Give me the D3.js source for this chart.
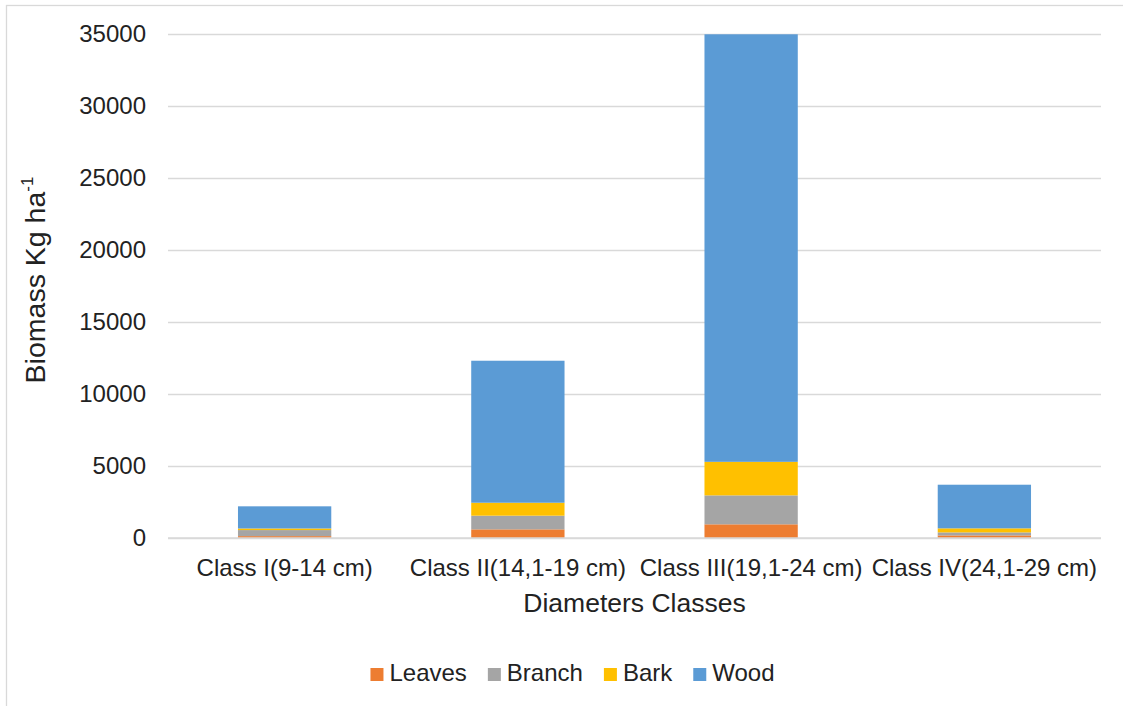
<!DOCTYPE html>
<html><head><meta charset="utf-8">
<script src="https://cdn.jsdelivr.net/npm/d3@7"></script>
<style>body{margin:0;background:#fff}svg{display:block}text{font-family:"Liberation Sans",Arial,sans-serif;fill:#222}</style>
</head><body>
<svg id="c" width="1123" height="706"></svg>
<script>
const categories = ["Class I(9-14 cm)", "Class II(14,1-19 cm)", "Class III(19,1-24 cm)", "Class IV(24,1-29 cm)"];
const seriesNames = ["Leaves", "Branch", "Bark", "Wood"];
const leaves = [130, 600, 950, 180];
const branch = [420, 950, 2010, 210];
const bark = [110, 900, 2330, 280];
const wood = [1540, 9860, 29690, 3030];
const yTicks = [0, 5000, 10000, 15000, 20000, 25000, 30000, 35000];
const colors = ["#ED7D31", "#A5A5A5", "#FFC000", "#5B9BD5"];

const svg = d3.select("#c");
const W = 1123, H = 706;
const L = 168, R = 1101, T = 34, B = 538;

svg.append("rect").attr("x", 6.5).attr("y", 5.5).attr("width", 1140).attr("height", 720)
  .attr("fill", "#fff").attr("stroke", "#d9d9d9").attr("stroke-width", 1.3);

const x = d3.scaleBand().domain(categories).range([L, R]).paddingInner(0.6).paddingOuter(0.3);
const y = d3.scaleLinear().domain([0, 35000]).range([B, T]);

// gridlines + y labels
const ga = svg.append("g").attr("transform", `translate(${L},0)`)
  .call(d3.axisLeft(y).tickValues(yTicks).tickSize(-(R - L)).tickPadding(22).tickFormat(d3.format("d")));
ga.select(".domain").remove();
ga.selectAll("line").attr("stroke", "#d9d9d9").attr("stroke-width", 1.4);
ga.selectAll("text").attr("font-size", 24).style("fill", "#222");

// stacked bars
const rows = categories.map((c, i) => ({cat: c, Leaves: leaves[i], Branch: branch[i], Bark: bark[i], Wood: wood[i]}));
const stack = d3.stack().keys(seriesNames)(rows);
svg.append("g").selectAll("g").data(stack).join("g")
  .attr("fill", (d, i) => colors[i])
  .selectAll("rect").data(d => d).join("rect")
  .attr("x", d => x(d.data.cat)).attr("width", x.bandwidth())
  .attr("y", d => y(d[1])).attr("height", d => y(d[0]) - y(d[1]));

// baseline
svg.append("line").attr("x1", L).attr("x2", R).attr("y1", y(0)).attr("y2", y(0))
  .attr("stroke", "#d9d9d9").attr("stroke-width", 1.4);

// category labels
svg.append("g").selectAll("text").data(categories).join("text")
  .attr("x", d => x(d) + x.bandwidth() / 2).attr("y", B + 38)
  .attr("text-anchor", "middle").attr("font-size", 24).text(d => d);

// x title
svg.append("text").attr("x", (L + R) / 2).attr("y", B + 74)
  .attr("text-anchor", "middle").attr("font-size", 26.5).text("Diameters Classes");

// y title
const yt = svg.append("text").attr("transform", `translate(45,${(T + B) / 2 - 6}) rotate(-90)`)
  .attr("text-anchor", "middle").attr("font-size", 28.5);
yt.append("tspan").text("Biomass Kg ha");
yt.append("tspan").attr("font-size", 17).attr("dy", -12).text("-1");

// legend
const lg = svg.append("g");
let cx = 0;
seriesNames.forEach((n, i) => {
  const g = lg.append("g").attr("transform", `translate(${cx},0)`);
  g.append("rect").attr("x", 0).attr("y", -13).attr("width", 13).attr("height", 13).attr("fill", colors[i]);
  const t = g.append("text").attr("x", 19).attr("y", 0).attr("font-size", 24).text(n);
  cx += 19 + t.node().getComputedTextLength() + 21;
});
const totalW = cx - 21;
lg.attr("transform", `translate(${572.5 - totalW / 2},681)`);
</script>
</body></html>
